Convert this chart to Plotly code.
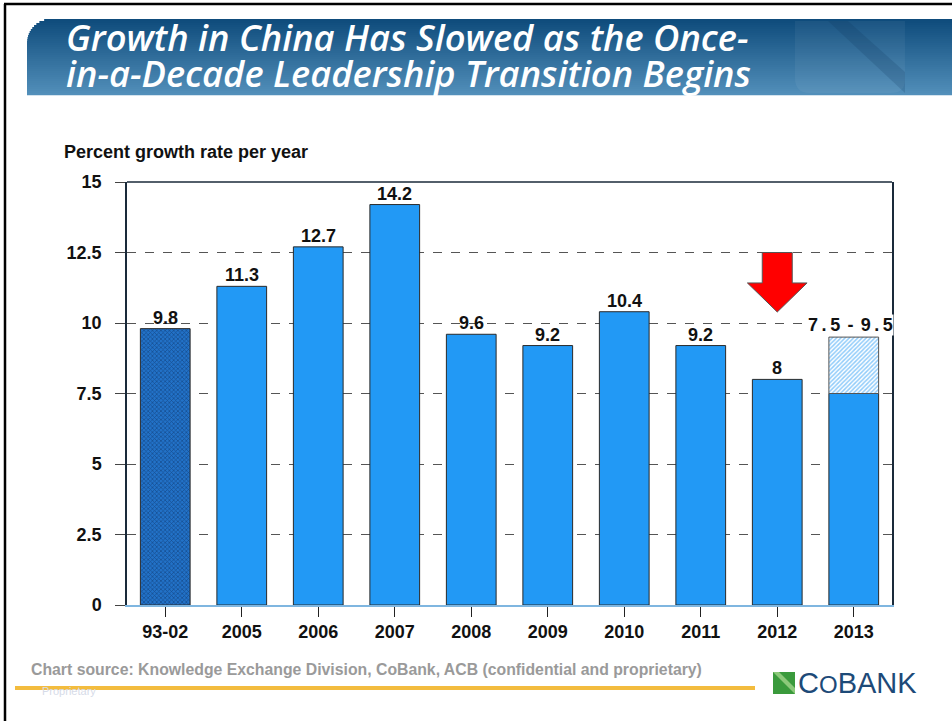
import plotly.graph_objects as go

# ---------------- data ----------------
categories = ["93-02", "2005", "2006", "2007", "2008", "2009", "2010", "2011", "2012", "2013"]
growth = [9.8, 11.3, 12.7, 14.2, 9.6, 9.2, 10.4, 9.2, 8.0, 7.5]
labels = ["9.8", "11.3", "12.7", "14.2", "9.6", "9.2", "10.4", "9.2", "8", ""]
forecast_low = 7.5
forecast_high = 9.5
forecast_label = "7.5 - 9.5"
y_ticks = [0, 2.5, 5, 7.5, 10, 12.5, 15]
title_lines = ["Growth in China Has Slowed as the Once-", "in-a-Decade Leadership Transition Begins"]

# ---------------- layout geometry (pixels) ----------------
W, H = 952, 721
L, R, T, B = 127, 892, 182, 605  # plot area edges


def px(x):
    return (x - L) / (R - L)


def py(y):
    return (B - y) / (B - T)


BLUE = "#2299F5"
EDGE = "#2a2a2a"
FONT = "Liberation Sans, Arial"

idx = list(range(len(categories)))

fig = go.Figure()

fig.add_trace(go.Bar(
    x=[idx[0]], y=[growth[0]], width=0.65,
    marker=dict(color="#2272c8", line=dict(color=EDGE, width=1),
                pattern=dict(shape="x", fgcolor="#0a2550", bgcolor="#2272c8", size=3, solidity=0.4)),
    hoverinfo="skip", showlegend=False))
fig.add_trace(go.Bar(
    x=idx[1:], y=growth[1:], width=0.65,
    marker=dict(color=BLUE, line=dict(color=EDGE, width=1)),
    hoverinfo="skip", showlegend=False))
fig.add_trace(go.Bar(
    x=[idx[-1]], y=[forecast_high - forecast_low], base=[forecast_low], width=0.65,
    marker=dict(color="white", line=dict(color="#555555", width=1),
                pattern=dict(shape="/", fgcolor=BLUE, bgcolor="white", size=3, solidity=0.5)),
    hoverinfo="skip", showlegend=False))

annotations = []
for i, (v, lab) in enumerate(zip(growth, labels)):
    if lab:
        annotations.append(dict(x=i, y=v, xref="x", yref="y", text=lab, showarrow=False,
                                yanchor="bottom", yshift=-1,
                                font=dict(family=FONT, size=18, color="#111", weight=700)))
# forecast range label, letter-spaced like the original
lo_txt, _, hi_txt = forecast_label.split(" ")
spaced = "\u2009".join(lo_txt) + "\u2009\u2009-\u2009\u2009" + "\u2009".join(hi_txt)
annotations.append(dict(x=idx[-1], y=forecast_high, xref="x", yref="y",
                        text=spaced, showarrow=False,
                        yanchor="bottom", yshift=1, xshift=-3, bgcolor="white", borderpad=0,
                        font=dict(family=FONT, size=18, color="#111", weight=700)))

# y-axis title
annotations.append(dict(x=px(62), y=py(152), xref="paper", yref="paper", xanchor="left", yanchor="middle",
                        text="Percent growth rate per year", showarrow=False,
                        font=dict(family=FONT, size=18, color="#111", weight=700)))

# title (two lines)
for line, yc in zip(title_lines, [37, 73]):
    annotations.append(dict(x=px(64), y=py(yc), xref="paper", yref="paper", xanchor="left", yanchor="middle",
                            text=line, align="left", showarrow=False,
                            font=dict(family="Open Sans", size=36.3, color="white", weight=600, style="italic")))

# footer
annotations.append(dict(x=px(40), y=py(691), xref="paper", yref="paper", xanchor="left", yanchor="middle",
                        text="Proprietary", showarrow=False,
                        font=dict(family=FONT, size=11, color="#d6dbe8")))
annotations.append(dict(x=px(29), y=py(669), xref="paper", yref="paper", xanchor="left", yanchor="middle",
                        text="Chart source: Knowledge Exchange Division, CoBank, ACB (confidential and proprietary)",
                        showarrow=False,
                        font=dict(family=FONT, size=15.8, color="#9a9a9a", weight=700)))
annotations.append(dict(x=px(796), y=py(683), xref="paper", yref="paper", xanchor="left", yanchor="middle",
                        text="C<span style='font-size:24px'>O</span>BANK", showarrow=False,
                        font=dict(family=FONT, size=29, color="#1d4a78")))

shapes = []
bx0, bx1, by0, by1, rad = 27, 952, 19, 95, 24
top_c = (15, 76, 124)
bot_c = (82, 143, 186)
n = 38
for k in range(n):
    y0 = by0 + (by1 - by0) * k / n
    y1 = by0 + (by1 - by0) * (k + 1) / n
    t = k / (n - 1)
    c = tuple(int(top_c[j] + (bot_c[j] - top_c[j]) * t) for j in range(3))
    ym = (y0 + y1) / 2
    dy = ym - by0
    xoff = rad - (rad ** 2 - (rad - dy) ** 2) ** 0.5 if dy < rad else 0
    shapes.append(dict(type="rect", xref="paper", yref="paper", layer="below",
                       x0=px(bx0 + xoff), x1=px(bx1), y0=py(y1 + 0.3), y1=py(y0),
                       fillcolor="rgb(%d,%d,%d)" % c, line=dict(width=0)))
# faint "N" motif on banner
shapes.append(dict(type="path", xref="paper", yref="paper", layer="below",
                   path="M %f %f L %f %f L %f %f Q %f %f %f %f L %f %f Q %f %f %f %f Z" % (
                       px(795), py(21), px(905), py(21), px(905), py(80), px(905), py(93), px(890), py(93),
                       px(810), py(93), px(795), py(93), px(795), py(78)),
                   fillcolor="rgba(255,255,255,0.05)", line=dict(width=0)))
shapes.append(dict(type="path", xref="paper", yref="paper", layer="below",
                   path="M %f %f L %f %f L %f %f L %f %f Z" % (px(828), py(21), px(848), py(21), px(905), py(72), px(905), py(93)),
                   fillcolor="rgba(10,50,90,0.18)", line=dict(width=0)))

# slide frame
shapes.append(dict(type="line", xref="paper", yref="paper", x0=px(4), x1=px(952), y0=py(4), y1=py(4),
                   line=dict(color="black", width=2.5)))
shapes.append(dict(type="line", xref="paper", yref="paper", x0=px(5), x1=px(5), y0=py(4), y1=py(721),
                   line=dict(color="black", width=2.5)))

# top border of plot
shapes.append(dict(type="line", xref="paper", yref="paper", x0=0, x1=1, y0=1, y1=1,
                   line=dict(color="#1a2a3a", width=1.5)))

# footer rule
shapes.append(dict(type="line", xref="paper", yref="paper", x0=px(15), x1=px(755), y0=py(688), y1=py(688),
                   line=dict(color="#F3BC3E", width=4)))

# CoBank logo mark
shapes.append(dict(type="rect", xref="paper", yref="paper", x0=px(773), x1=px(795), y0=py(694), y1=py(672),
                   fillcolor="#3a9a3c", line=dict(width=0)))
shapes.append(dict(type="path", xref="paper", yref="paper",
                   path="M %f %f L %f %f L %f %f L %f %f Z" % (px(773), py(672), px(779), py(672), px(795), py(688), px(795), py(694)),
                   fillcolor="#8cc97a", line=dict(width=0)))

# red down arrow above 2012
ax = idx[8]
shaft, head = 0.196, 0.39
y_top, y_neck, y_tip = 12.5, 11.42, 10.39
shapes.append(dict(type="path", xref="x", yref="y",
                   path=("M {a} {t} L {b} {t} L {b} {n} L {c} {n} L {x} {p} L {d} {n} L {e} {n} Z").format(
                       a=ax - shaft, b=ax + shaft, c=ax + head, d=ax - head, e=ax - shaft,
                       t=y_top, n=y_neck, x=ax, p=y_tip),
                   fillcolor="#FF0000", line=dict(color="#555", width=1)))

fig.update_layout(
    width=W, height=H,
    margin=dict(l=L, r=W - R, t=T, b=H - B, autoexpand=False),
    paper_bgcolor="white", plot_bgcolor="white",
    barmode="overlay",
    showlegend=False,
    annotations=annotations, shapes=shapes,
    xaxis=dict(range=[-0.5, 9.5], tickmode="array", tickvals=idx, ticktext=categories,
               showgrid=False, zeroline=False, showline=True, linecolor="#7fb6e0", linewidth=1.5,
               ticks="outside", ticklen=10, tickcolor="#222", tickwidth=1,
               tickfont=dict(family=FONT, size=18, color="#111", weight=700)),
    yaxis=dict(range=[0, 15], tickmode="array", tickvals=y_ticks, ticktext=[str(v) for v in y_ticks],
               showgrid=True, gridcolor="#555", griddash="dash", gridwidth=1.3,
               zeroline=False, showline=True, mirror=True, linecolor="#1a2a3a", linewidth=1.5,
               ticks="outside", ticklen=10, tickcolor="#444", tickwidth=1, ticklabelstandoff=10,
               tickfont=dict(family=FONT, size=18, color="#111", weight=700)),
)

fig.write_html("out.html")
